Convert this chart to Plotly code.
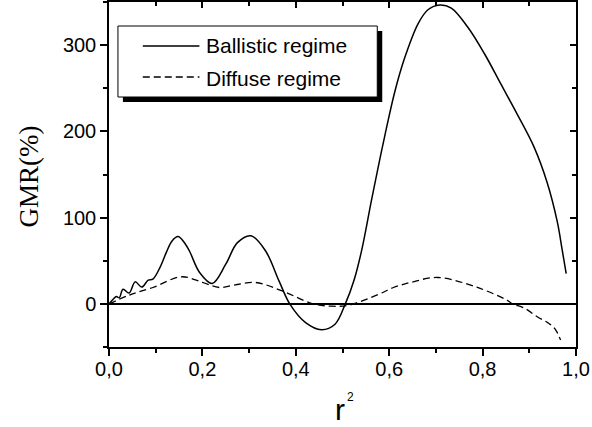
import plotly.graph_objects as go

# Ballistic regime (solid)
ballistic_x = [0, 0.009, 0.016, 0.022, 0.030, 0.043, 0.056, 0.070, 0.084, 0.094, 0.109, 0.123,
               0.135, 0.148, 0.160, 0.172, 0.194, 0.221, 0.250, 0.275, 0.304, 0.335, 0.364,
               0.387, 0.421, 0.455, 0.484, 0.506, 0.525, 0.541, 0.562, 0.577, 0.591, 0.612,
               0.633, 0.662, 0.683, 0.708, 0.733, 0.768, 0.804, 0.839, 0.874, 0.910, 0.938,
               0.960, 0.970, 0.979]
ballistic_y = [0, 5.4, 8.5, 7, 17, 12.5, 25.5, 19.5, 27.5, 28.7, 42, 60,
               73, 78, 72, 61.6, 36.4, 23.7, 46, 71, 79, 61.6, 26.7,
               0, -21.7, -30, -23.6, 0, 28, 62, 120, 160, 196, 246,
               285, 325, 341, 346.5, 343, 321, 290, 255, 220, 182, 141,
               95, 64, 35]

# Diffuse regime (dashed)
diffuse_x = [0, 0.045, 0.094, 0.155, 0.200, 0.236, 0.270, 0.314, 0.371, 0.435, 0.477, 0.513,
             0.577, 0.609, 0.647, 0.704, 0.789, 0.853, 0.864, 0.890, 0.917, 0.940, 0.955, 0.967]
diffuse_y = [0, 10.5, 19, 31.4, 25, 19, 22, 24.8, 15, 0.4, -2.7, -1.5,
             11, 19, 25, 30.6, 19, 4, 0, -5, -15, -22, -29, -42]

x_ticks = [0.0, 0.2, 0.4, 0.6, 0.8, 1.0]
x_tick_labels = ["0,0", "0,2", "0,4", "0,6", "0,8", "1,0"]
y_ticks = [0, 100, 200, 300]

W, H = 592, 427
L, R, T, B = 109, 13, 2, 80
pw, ph = W - L - R, H - T - B

def px(xp):
    return (xp - L) / pw

def py(yp):
    return (H - B - yp) / ph

fig = go.Figure()
fig.add_trace(go.Scatter(x=ballistic_x, y=ballistic_y, mode="lines",
                         line=dict(color="black", width=1.5, shape="spline", smoothing=1.0),
                         showlegend=False, hoverinfo="skip"))
fig.add_trace(go.Scatter(x=diffuse_x, y=diffuse_y, mode="lines",
                         line=dict(color="black", width=1.3, dash="7px,4px", shape="spline", smoothing=1.0),
                         showlegend=False, hoverinfo="skip"))
# dummy trace for mirror axes
fig.add_trace(go.Scatter(x=[0, 1], y=[-50, 350], xaxis="x2", yaxis="y2", mode="markers",
                         marker=dict(opacity=0), showlegend=False, hoverinfo="skip"))

font = dict(family="Liberation Sans, Arial", size=20, color="black")
legfont = dict(family="Liberation Sans, Arial", size=21, color="black")

axis_common = dict(showgrid=False, zeroline=False, linecolor="black", linewidth=1.5,
                   tickcolor="black", tickwidth=1.5)

fig.update_layout(
    width=W, height=H, margin=dict(l=L, r=R, t=T, b=B),
    plot_bgcolor="white", paper_bgcolor="white",
    font=font,
    xaxis=dict(range=[0, 1], tickvals=x_ticks, ticktext=x_tick_labels, ticks="outside",
               ticklen=7, minor=dict(dtick=0.1, tick0=0, ticks="outside", ticklen=4,
                                     tickcolor="black", tickwidth=1.5),
               tickfont=font, ticklabeloverflow="allow", ticklabelstandoff=-4,
               **axis_common),
    yaxis=dict(range=[-50, 350], tickvals=y_ticks, ticks="outside", ticklen=7,
               minor=dict(dtick=50, tick0=0, ticks="outside", ticklen=4,
                          tickcolor="black", tickwidth=1.5),
               tickfont=font, **axis_common),
    xaxis2=dict(range=[0, 1], overlaying="x", side="top", showticklabels=False,
                tickvals=x_ticks, ticks="inside", ticklen=6,
                minor=dict(dtick=0.1, tick0=0, ticks="inside", ticklen=4,
                           tickcolor="black", tickwidth=1.5),
                **axis_common),
    yaxis2=dict(range=[-50, 350], overlaying="y", side="right", showticklabels=False,
                tickvals=y_ticks, ticks="inside", ticklen=6,
                minor=dict(dtick=50, tick0=0, ticks="inside", ticklen=4,
                           tickcolor="black", tickwidth=1.5),
                **axis_common),
)

shapes = [
    # zero line
    dict(type="line", xref="x", yref="y", x0=0, x1=1, y0=0, y1=0,
         line=dict(color="black", width=2)),
    # legend shadow
    dict(type="rect", xref="paper", yref="paper", x0=px(123), x1=px(384), y0=py(102), y1=py(31),
         fillcolor="black", line=dict(width=0)),
    # legend box
    dict(type="rect", xref="paper", yref="paper", x0=px(118), x1=px(379), y0=py(97), y1=py(26),
         fillcolor="white", line=dict(color="black", width=1)),
    dict(type="line", xref="paper", yref="paper", x0=px(143), x1=px(200), y0=py(46), y1=py(46),
         line=dict(color="black", width=1.5)),
    dict(type="line", xref="paper", yref="paper", x0=px(143), x1=px(200), y0=py(77), y1=py(77),
         line=dict(color="black", width=1.3, dash="7px,4px")),
]
fig.update_layout(shapes=shapes)

annotations = [
    dict(text="Ballistic regime", xref="paper", yref="paper", x=px(205), y=py(45),
         xanchor="left", yanchor="middle", showarrow=False, font=legfont),
    dict(text="Diffuse regime", xref="paper", yref="paper", x=px(205), y=py(78),
         xanchor="left", yanchor="middle", showarrow=False, font=legfont),
    dict(text="GMR(%)", xref="paper", yref="paper", x=px(28), y=py(177), textangle=-90,
         xanchor="center", yanchor="middle", showarrow=False,
         font=dict(family="Liberation Serif, Times New Roman", size=27, color="black")),
    dict(text="r", xref="paper", yref="paper", x=px(341), y=py(428),
         xanchor="center", yanchor="bottom", showarrow=False,
         font=dict(family="Liberation Sans, Arial", size=30, color="black")),
    dict(text="2", xref="paper", yref="paper", x=px(347), y=py(406),
         xanchor="left", yanchor="bottom", showarrow=False,
         font=dict(family="Liberation Sans, Arial", size=12, color="black")),
]
fig.update_layout(annotations=annotations)

fig.write_html("out.html")
